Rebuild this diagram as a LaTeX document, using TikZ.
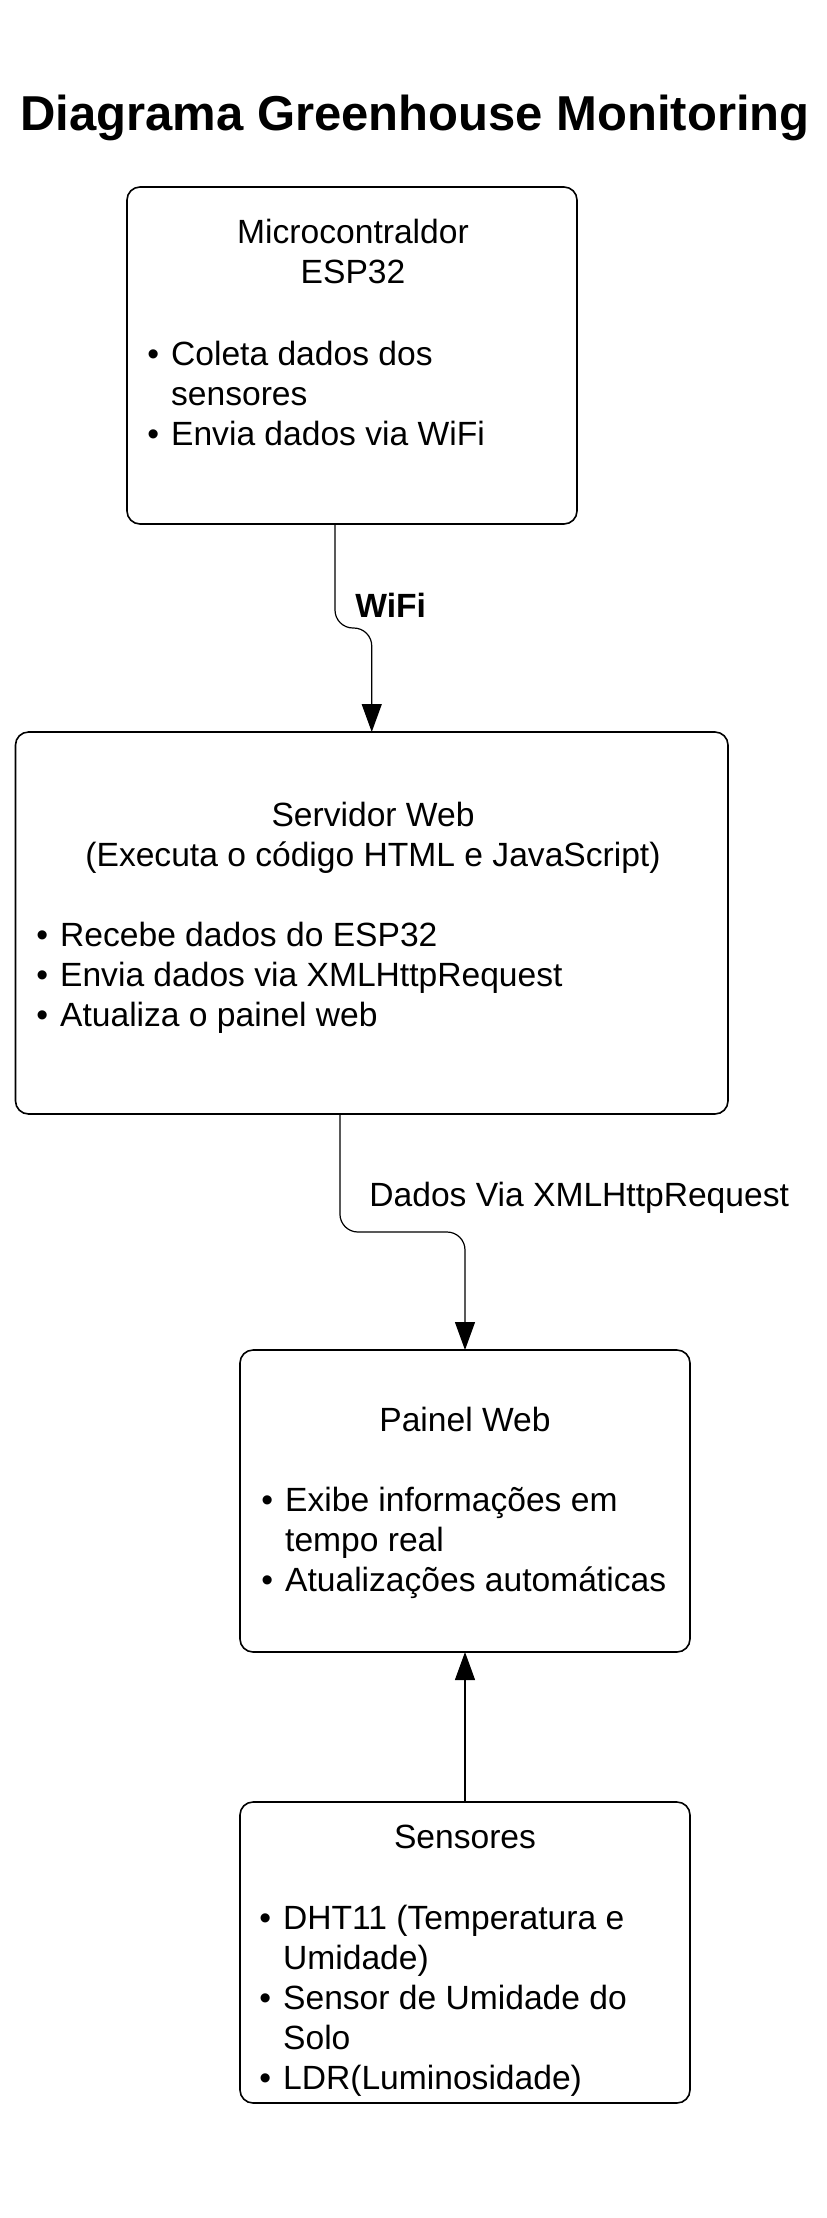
\documentclass[tikz,border=0pt]{standalone}
\usepackage{fontspec}
\setmainfont{Liberation Sans}
\usepackage{tikz}
\usetikzlibrary{calc}
\usetikzlibrary{arrows.meta}
\usetikzlibrary{positioning}
\tikzset{block/.style={draw=black, line width=0.8pt, rounded corners=6.5pt, inner sep=0pt, outer sep=0pt}}
\tikzset{txt/.style={inner sep=0pt, font=\fontsize{16.8pt}{20pt}\selectfont}}
\tikzset{flow/.style={line width=0.6pt, -{Triangle[length=14pt,width=10pt]}}}
\newcommand{\lista}[1]{\begin{tabular}[t]{@{}l@{\hspace{6pt}}l@{}}#1\end{tabular}}
\newcommand{\centro}[1]{\begin{tabular}[t]{@{}c@{}}#1\end{tabular}}

\begin{document}
\begin{tikzpicture}[x=0.5pt,y=-0.5pt]
\useasboundingbox (0,0) rectangle (826,2218);

\node[txt, anchor=base, font=\fontsize{24.5pt}{28pt}\selectfont\bfseries] (titulo) at (415,130.5) {Diagrama Greenhouse Monitoring};

% ESP32
\node[block, minimum width=225pt, minimum height=168.5pt] (esp) at (352,355.5) {};
\node[txt, anchor=base] (esptit) at (353,243) {\centro{Microcontraldor\\ESP32}};
\node[txt, anchor=base west] (esplist) at (147,365) {\lista{\textbullet & Coleta dados dos\\ & sensores\\ \textbullet & Envia dados via WiFi}};

% servidor
\node[block, minimum width=356.25pt, minimum height=191pt] (srv) at (371.75,923) {};
\node[txt, anchor=base] (srvtit) at (373,826) {\centro{Servidor Web\\(Executa o código HTML e JavaScript)}};
\node[txt, anchor=base west] (srvlist) at (36,946) {\lista{\textbullet & Recebe dados do ESP32\\ \textbullet & Envia dados via XMLHttpRequest\\ \textbullet & Atualiza o painel web}};

% painel
\node[block, minimum width=225pt, minimum height=151pt] (painel) at (465,1501) {};
\node[txt, anchor=base] (paineltit) at (465,1431) {Painel Web};
\node[txt, anchor=base west] (painellist) at (261,1511) {\lista{\textbullet & Exibe informações em\\ & tempo real\\ \textbullet & Atualizações automáticas}};

% sensores
\node[block, minimum width=225pt, minimum height=150.5pt] (sens) at (465,1952.5) {};
\node[txt, anchor=base] (senstit) at (465,1848) {Sensores};
\node[txt, anchor=base west] (senslist) at (259,1929) {\lista{\textbullet & DHT11 (Temperatura e\\ & Umidade)\\ \textbullet & Sensor de Umidade do\\ & Solo\\ \textbullet & LDR(Luminosidade)}};

% ligacoes
\draw[flow, rounded corners=9pt] ([xshift=-8.5pt]esp.south) -- ++(0,104) -| (srv.north);
\node[txt, anchor=base west, font=\fontsize{16.8pt}{20pt}\selectfont\bfseries] (wifi) at (355,617) {WiFi};

\draw[flow, rounded corners=9pt] ([xshift=-15.9pt]srv.south) -- ++(0,118) -| (painel.north);
\node[txt, anchor=base west] (dados) at (369,1206) {Dados Via XMLHttpRequest};

\draw[flow] (sens.north) -- (painel.south);
\end{tikzpicture}
\end{document}
